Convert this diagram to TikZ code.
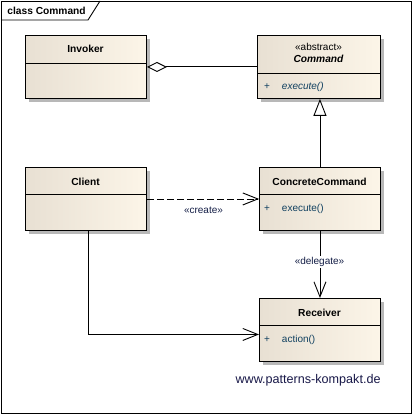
\documentclass[tikz,border=0pt]{standalone}
\usepackage{fontspec}
\setmainfont{Liberation Sans}
\usetikzlibrary{arrows.meta,shadows,calc}
\definecolor{boxL}{RGB}{232,224,211}
\definecolor{boxR}{RGB}{252,245,232}
\definecolor{optext}{RGB}{16,64,96}
\definecolor{lbltext}{RGB}{20,30,70}
\definecolor{webtext}{RGB}{24,24,72}
\begin{document}
\begin{tikzpicture}[x=1pt,y=-1pt,
  line width=0.9pt,
  cls/.style={draw=black, line width=0.9pt, left color=boxL, right color=boxR,
    drop shadow={shadow xshift=3.5pt, shadow yshift=-3.5pt, fill=black!28, opacity=1},
    inner sep=0pt, anchor=north west, minimum width=121pt, minimum height=63pt},
  ttl/.style={font=\fontsize{10.2}{12}\selectfont\bfseries, text height=7.2pt, text depth=2pt, inner sep=0pt},
  ster/.style={font=\fontsize{10}{12}\selectfont, text height=7.2pt, text depth=2pt, inner sep=0pt},
  opplus/.style={font=\fontsize{10}{12}\selectfont, text=optext, text height=7.2pt, text depth=2pt, inner sep=0pt},
  optxt/.style={font=\fontsize{10}{12}\selectfont, text=optext, text height=7.2pt, text depth=2pt, inner sep=0pt, anchor=west},
  lbl/.style={font=\fontsize{10}{12}\selectfont, text=lbltext, inner sep=1pt},
  aggr/.style={draw=black, -{Diamond[open, length=20pt, width=10pt, line width=0.9pt]}},
  gen/.style={draw=black, -{Triangle[open, length=17pt, width=13pt, line width=0.9pt]}},
  dep/.style={draw=black, dash pattern=on 7pt off 3pt, -{Straight Barb[length=15pt, width=12pt, line width=0.9pt]}},
  assoc/.style={draw=black, -{Straight Barb[length=15pt, width=12pt, line width=0.9pt]}}
]
\useasboundingbox (0,0) rectangle (412,414);
% frame
\node[draw=black, line width=0.9pt, inner sep=0pt, minimum width=410pt, minimum height=412pt, anchor=north west] (frame) at (1,1) {};
\coordinate (tabA) at (1,20);
\coordinate (tabB) at (88,20);
\coordinate (tabC) at (100,1);
\draw (tabA) -- (tabB) -- (tabC);
\node[font=\fontsize{10.2}{12}\selectfont\bfseries, anchor=west, inner sep=0pt] (frameTitle) at (7,11) {class Command};

% Invoker
\node[cls] (inv) at (25,35) {};
\draw ($(inv.north west)+(0,28)$) -- ($(inv.north east)+(0,28)$);
\node[ttl] (invT) at (85.5,50) {Invoker};

% Command
\node[cls, minimum width=123pt] (cmd) at (257,35) {};
\draw ($(cmd.north west)+(0,38)$) -- ($(cmd.north east)+(0,38)$);
\node[ster] (cmdS) at (318.5,47.5) {«abstract»};
\node[ttl, font=\fontsize{10.2}{12}\selectfont\bfseries\itshape] (cmdT) at (318.5,60) {Command};
\node[opplus] (cmdP) at (267,87) {+};
\node[optxt, font=\fontsize{10}{12}\selectfont\itshape] (cmdO) at (281.5,87) {execute()};

% Client
\node[cls] (cl) at (25,167) {};
\draw ($(cl.north west)+(0,27)$) -- ($(cl.north east)+(0,27)$);
\node[ttl] (clT) at (85.5,183) {Client};

% ConcreteCommand
\node[cls] (cc) at (259,167) {};
\draw ($(cc.north west)+(0,27)$) -- ($(cc.north east)+(0,27)$);
\node[ttl] (ccT) at (319.5,183) {ConcreteCommand};
\node[opplus] (ccP) at (267,209) {+};
\node[optxt] (ccO) at (281.5,209) {execute()};

% Receiver
\node[cls] (rec) at (259,298) {};
\draw ($(rec.north west)+(0,27)$) -- ($(rec.north east)+(0,27)$);
\node[ttl] (recT) at (319.5,314) {Receiver};
\node[opplus] (recP) at (267,340) {+};
\node[optxt] (recO) at (281.5,340) {action()};

% connectors
\draw[aggr] (cmd.west |- inv.east) -- (inv.east);
\draw[gen] (cc.north) -- (cc.north |- cmd.south);
\draw[dep] (cl.east) -- (cc.west);
\node[lbl] (createL) at (203.5,210.5) {«create»};
\draw[assoc] (cc.south) -- (rec.north);
\node[lbl, fill=white] (delL) at (319.5,262) {«delegate»};
\coordinate (clOut) at ($(cl.south)+(2.5,0)$);
\coordinate (recIn) at ($(rec.west)+(0,4.5)$);
\draw[assoc] (clOut) |- (recIn);

% website
\node[font=\fontsize{12.6}{14}\selectfont, text=webtext, anchor=east, inner sep=0pt] (web) at (381,380) {www.patterns-kompakt.de};
\end{tikzpicture}
\end{document}
